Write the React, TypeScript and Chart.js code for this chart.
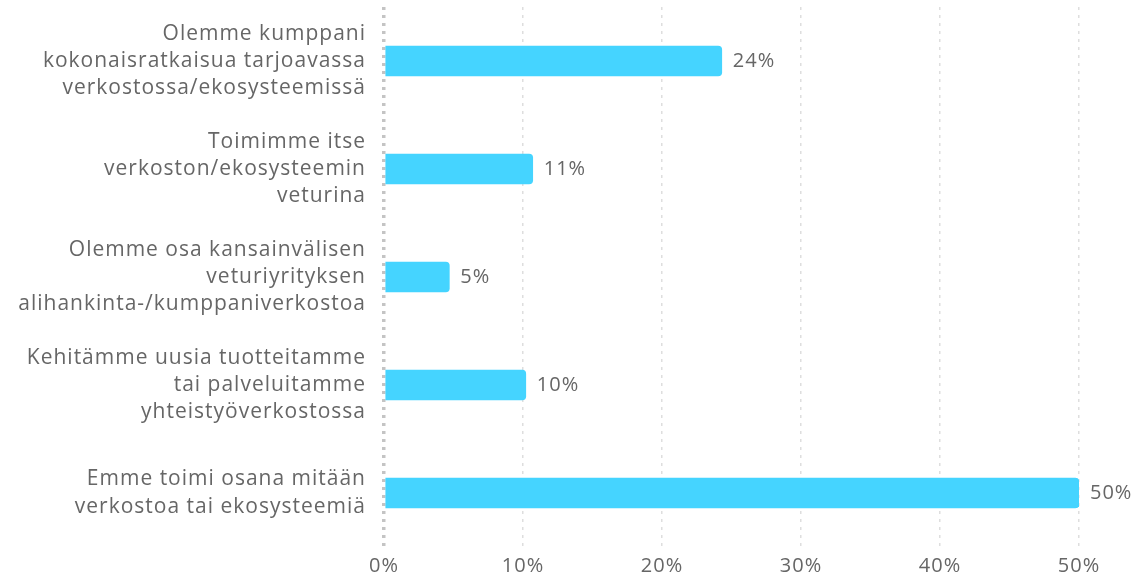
import React, { useEffect, useRef } from "react";
import { Chart, registerables } from "chart.js";

Chart.register(...registerables);

const categories: string[][] = [
  ["Olemme kumppani", "kokonaisratkaisua tarjoavassa", "verkostossa/ekosysteemissä"],
  ["Toimimme itse", "verkoston/ekosysteemin", "veturina"],
  ["Olemme osa kansainvälisen", "veturiyrityksen", "alihankinta-/kumppaniverkostoa"],
  ["Kehitämme uusia tuotteitamme", "tai palveluitamme", "yhteistyöverkostossa"],
  ["Emme toimi osana mitään", "verkostoa tai ekosysteemiä"],
];
const values: number[] = [24.3, 10.7, 4.7, 10.2, 50];
const valueLabels: string[] = ["24%", "11%", "5%", "10%", "50%"];
const xTicks: number[] = [0, 10, 20, 30, 40, 50];

const FONT = "'Open Sans', 'Noto Sans', sans-serif";
const GREY = "#666666";

const spacingPlugin = {
  id: "spacing",
  beforeLayout(chart: any) {
    chart.ctx.letterSpacing = "1px";
  },
  beforeDraw(chart: any) {
    chart.ctx.letterSpacing = "1px";
  },
};

const valueLabelPlugin = {
  id: "valueLabels",
  afterDatasetsDraw(chart: any) {
    const { ctx } = chart;
    const meta = chart.getDatasetMeta(0);
    ctx.save();
    ctx.font = `20px ${FONT}`;
    ctx.fillStyle = GREY;
    ctx.textAlign = "left";
    ctx.textBaseline = "middle";
    meta.data.forEach((bar: any, i: number) => {
      ctx.fillText(valueLabels[i], bar.x + 11, bar.y);
    });
    ctx.restore();
  },
};

export default function App() {
  const ref = useRef<HTMLCanvasElement | null>(null);
  useEffect(() => {
    if (!ref.current) return;
    const chart = new Chart(ref.current, {
      type: "bar",
      data: {
        labels: categories,
        datasets: [
          {
            data: values,
            backgroundColor: "#45D4FF",
            borderRadius: 4,
            borderSkipped: "start",
            barThickness: 30,
          },
        ],
      },
      options: {
        indexAxis: "y",
        animation: false,
        responsive: true,
        maintainAspectRatio: false,
        layout: { padding: { top: 7, right: 58, left: 0, bottom: 0 } },
        plugins: { legend: { display: false }, tooltip: { enabled: false } },
        scales: {
          x: {
            min: 0,
            max: 50,
            afterBuildTicks: (scale: any) => {
              scale.ticks = xTicks.map((v) => ({ value: v }));
            },
            afterFit: (scale: any) => {
              scale.height = 29;
              scale.paddingLeft = 0;
            },
            ticks: {
              padding: 7,
              color: GREY,
              font: { family: FONT, size: 20 },
              callback: (v: any) => `${v}%`,
            },
            border: { display: false, dash: [3, 5] },
            grid: {
              drawTicks: false,
              color: (ctx: any) => (ctx.index === 0 ? "#c4c4c4" : "#dedede"),
              lineWidth: (ctx: any) => (ctx.index === 0 ? 3.5 : 1.5),
            },
          },
          y: {
            afterFit: (scale: any) => {
              scale.width = 384;
              scale.paddingTop = 0;
              scale.paddingBottom = 0;
            },
            ticks: {
              padding: 18,
              color: GREY,
              font: { family: FONT, size: 21, lineHeight: 1.29 },
            },
            border: { display: false },
            grid: { display: false, drawTicks: false },
          },
        },
      },
      plugins: [spacingPlugin, valueLabelPlugin],
    });
    return () => chart.destroy();
  }, []);
  return (
    <div style={{ position: "absolute", left: 0, top: 0, width: 1137, height: 576 }}>
      <canvas ref={ref} />
    </div>
  );
}
